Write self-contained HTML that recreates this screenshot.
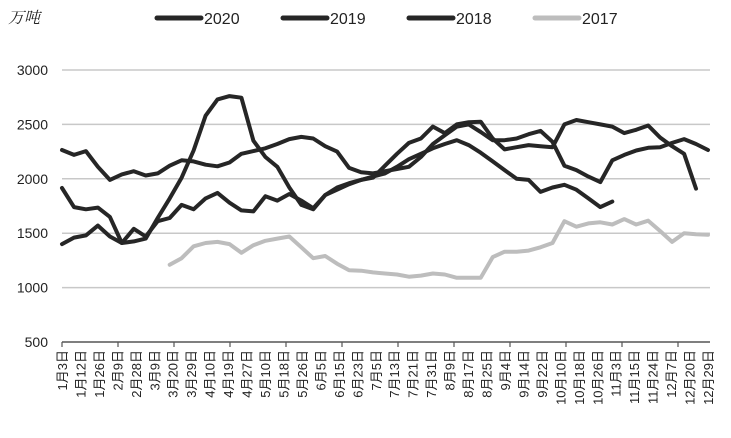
<!DOCTYPE html>
<html><head><meta charset="utf-8"><style>
body{margin:0;background:#fff;}
svg{display:block;font-family:"Liberation Sans","Noto Sans CJK SC",sans-serif;}
</style></head><body>
<svg id="chart" width="731" height="438" viewBox="0 0 731 438" xmlns="http://www.w3.org/2000/svg">
<text x="8" y="23" font-size="16" font-family="'Noto Serif CJK SC','Noto Sans CJK SC',serif" font-style="italic" fill="#222">万吨</text>
<g id="legend"></g>
<g id="grid"></g>
<g id="yaxis"></g>
<g id="xaxis"></g>
<g id="series"></g>
</svg>
<script>
const categories=["1月3日","1月12日","1月26日","2月9日","2月28日","3月9日","3月20日","3月29日","4月10日","4月19日","4月27日","5月10日","5月18日","5月26日","6月5日","6月15日","6月23日","7月5日","7月13日","7月21日","7月31日","8月9日","8月17日","8月25日","9月4日","9月14日","9月22日","10月10日","10月18日","10月26日","11月3日","11月15日","11月24日","12月7日","12月20日","12月29日"];
const seriesNames=["2020","2019","2018","2017"];
const yTicks=[500,1000,1500,2000,2500,3000];
const s2020=[1400,1460,1480,1570,1470,1410,1540,1470,1610,1640,1760,1720,1820,1870,1780,1710,1700,1840,1800,1860,1800,1730,1850,1900,1950,1990,2020,2050,2110,2180,2230,2280,2320,2355,2310,2240,2160,2080,2000,1990,1880,1920,1945,1900,1820,1740,1790,null,null,null,null,null,null,null,null];
const s2019=[1915,1740,1720,1735,1650,1410,1425,1450,1640,1820,2010,2260,2580,2730,2760,2745,2350,2200,2110,1920,1760,1720,1850,1920,1960,1990,2010,2120,2230,2330,2370,2480,2420,2500,2520,2525,2370,2270,2290,2310,2300,2290,2500,2540,2520,2500,2480,2420,2450,2490,2380,2300,2230,1910,null];
const s2018=[2265,2220,2255,2110,1990,2040,2070,2030,2050,2120,2170,2160,2130,2115,2150,2230,2255,2280,2320,2365,2385,2370,2300,2250,2100,2060,2050,2070,2090,2110,2200,2320,2400,2480,2500,2430,2355,2355,2370,2410,2440,2340,2120,2080,2020,1970,2170,2220,2260,2285,2290,2330,2365,2320,2265];
const s2017=[null,null,null,null,null,null,null,null,null,1210,1270,1380,1410,1420,1400,1320,1390,1430,1450,1470,1370,1270,1290,1220,1160,1155,1140,1130,1120,1100,1110,1130,1120,1090,1090,1090,1280,1330,1330,1340,1370,1410,1610,1560,1590,1600,1580,1630,1580,1615,1520,1420,1500,1490,1485];
const NS="http://www.w3.org/2000/svg";
const X0=62,X1=708,N=55;
function xs(i){return X0+(X1-X0)*i/(N-1);}
function ys(v){return 342-(v-500)*(342-70)/2500;}
function mk(tag,attrs,parent){const e=document.createElementNS(NS,tag);for(const k in attrs)e.setAttribute(k,attrs[k]);parent.appendChild(e);return e;}
const grid=document.getElementById('grid'),yax=document.getElementById('yaxis'),xax=document.getElementById('xaxis'),ser=document.getElementById('series'),leg=document.getElementById('legend');
yTicks.forEach(t=>{
  if(t>500){const l=mk('line',{x1:62,x2:710,y1:ys(t),y2:ys(t),stroke:'#c8c8c8','stroke-width':1.5},grid);
  
  }
  const tx=mk('text',{x:48,y:ys(t)+5,'text-anchor':'end','font-size':14,fill:'#222'},yax);
  tx.textContent=t;
  
  
});
const ax=mk('line',{x1:62,x2:710,y1:342,y2:342,stroke:'#555','stroke-width':1.5},xax);


for(let x=62;x<=712;x+=56){const tk=mk('line',{x1:x,x2:x,y1:342,y2:347,stroke:'#555','stroke-width':1.2},xax);

}
categories.forEach((c,k)=>{
  const x=62+(708-62)*k/(categories.length-1)+5;
  const t=mk('text',{x:0,y:0,transform:`translate(${x},350) rotate(-90)`,'text-anchor':'end','font-size':13,fill:'#222'},xax);
  t.textContent=c;
  
  
});
const all=[s2020,s2019,s2018,s2017],cols=['#262626','#262626','#262626','#bdbdbd'];
all.forEach((s,si)=>{
  let d='',pen=false;
  s.forEach((v,i)=>{if(v==null){pen=false;return;}d+=(pen?'L':'M')+xs(i).toFixed(1)+' '+ys(v).toFixed(1)+' ';pen=true;});
  const p=mk('path',{d:d,fill:'none',stroke:cols[si],'stroke-width':4,'stroke-linejoin':'round','stroke-linecap':'round'},ser);
  
  
});
const lx=[157,283,409,535];
seriesNames.forEach((n,i)=>{
  const l=mk('line',{x1:lx[i],x2:lx[i]+44,y1:18,y2:18,stroke:cols[i],'stroke-width':5,'stroke-linecap':'round'},leg);
  
  
  const t=mk('text',{x:lx[i]+47,y:24,'font-size':16,fill:'#222'},leg);
  t.textContent=n;
  
  
});
</script>
</body></html>
